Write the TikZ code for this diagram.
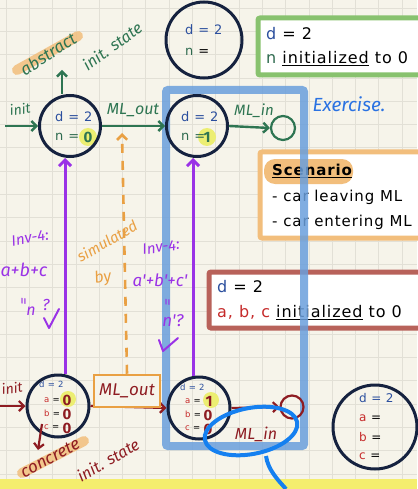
\documentclass[tikz,border=0pt]{standalone}
\usepackage{fontspec}
\setmainfont{DejaVu Sans}[LetterSpace=6]
\newfontfamily\hand{Fira Sans}
\usetikzlibrary{arrows.meta,shapes.geometric}
\definecolor{paper}{HTML}{F6F4EA}
\definecolor{gridc}{HTML}{E2E0D6}
\definecolor{navy}{HTML}{15223F}
\definecolor{dblue}{HTML}{2B4F9E}
\definecolor{ngreen}{HTML}{2F6B4F}
\definecolor{pengreen}{HTML}{2E7552}
\definecolor{violet}{HTML}{9A32E6}
\definecolor{orng}{HTML}{E9A043}
\definecolor{lorng}{HTML}{F2BE7C}
\definecolor{dred}{HTML}{8E1C22}
\definecolor{ared}{HTML}{C62A2A}
\definecolor{rbox}{HTML}{B8625A}
\definecolor{gbox}{HTML}{88C26E}
\definecolor{rectblue}{HTML}{6A9FDC}
\definecolor{penblue}{HTML}{2A72E2}
\definecolor{ringblue}{HTML}{1580F0}
\definecolor{hilite}{HTML}{ECEE72}
\definecolor{band}{HTML}{F4EE6E}
\tikzset{
  state/.style={circle, draw=navy, line width=3pt, inner sep=0pt},
  endstate/.style={circle, line width=2.2pt, inner sep=0pt, minimum size=24pt},
  garrow/.style={pengreen, line width=2.4pt, -{Straight Barb[length=5pt,width=10pt]}},
  rarrow/.style={dred, line width=2.2pt, -{Straight Barb[length=5pt,width=10pt]}},
  parrow/.style={violet, line width=3pt, -{Straight Barb[length=6pt,width=12pt]}},
  hw/.style={inner sep=0pt, font=\hand\itshape\fontsize{14}{14}\selectfont},
  typed/.style={font=\fontsize{16}{16}\selectfont, anchor=west, inner sep=0pt},
  mid/.style={font=\fontsize{13}{13}\selectfont, anchor=west, inner sep=0pt},
  tiny/.style={font=\fontsize{8.5}{8.5}\selectfont, anchor=west, inner sep=0pt},
  val/.style={inner sep=0pt, font=\hand\bfseries\fontsize{15}{15}\selectfont},
  frame/.style={line width=5pt, fill=white, rounded corners=2pt},
}
\begin{document}
\begin{tikzpicture}[x=1pt,y=-1pt]
\useasboundingbox (0,0) rectangle (417,489);
% paper and grid
\fill[paper] (0,0) rectangle (417,489);
\foreach \x in {6,29.3,...,417} \draw[gridc, line width=0.7pt] (\x,0) -- (\x,489);
\foreach \y in {8,31.3,...,489} \draw[gridc, line width=0.7pt] (0,\y) -- (417,\y);
\fill[band] (0,479) rectangle (417,489);

% ---- boxes on the right ----
\draw[frame, draw=gbox] (258,18) rectangle (425,75);
\node[typed] at (266,34) {\textcolor{dblue}{d} = 2};
\node[typed] at (266,59) {\textcolor{ngreen}{n} \underline{initialized} to 0};

\draw[frame, draw=lorng] (260,152) rectangle (425,238);
\fill[lorng, rounded corners=11pt] (264,159) rectangle (353,184);
\node[typed, font=\bfseries\fontsize{15}{15}\selectfont] at (272,171) {\underline{Scenario}};
\node[typed, font=\fontsize{15}{15}\selectfont] at (272,197) {- car leaving ML};
\node[typed, font=\fontsize{15}{15}\selectfont] at (272,222) {- car entering ML};

\draw[frame, draw=rbox] (209,272) rectangle (425,328);
\node[typed] at (217,287) {\textcolor{dblue}{d} = 2};
\node[typed] at (217,313) {\textcolor{ared}{a, b, c} \underline{initialized} to 0};

% ---- exercise frame (under the states, over the boxes) ----
\draw[rectblue, line width=8pt, opacity=0.85, rounded corners=2pt] (166,90) rectangle (304,446);

% ---- legend circles ----
\node[state, minimum size=76pt] (legA) at (204,40) {};
\node[mid] at (185,30) {\textcolor{dblue}{d = 2}};
\node[mid] at (185,52) {\textcolor{ngreen}{n} =};

\node[state, minimum size=84pt] (legC) at (375,427) {};
\node[mid, font=\fontsize{12}{12}\selectfont] at (359,398) {\textcolor{dblue}{d = 2}};
\node[mid, font=\fontsize{12}{12}\selectfont] at (359,418) {\textcolor{ared}{a} =};
\node[mid, font=\fontsize{12}{12}\selectfont] at (359,437) {\textcolor{ared}{b} =};
\node[mid, font=\fontsize{12}{12}\selectfont] at (359,456) {\textcolor{ared}{c} =};

% ---- abstract machine ----
\fill[hilite] (88,137) circle (9pt);
\fill[hilite] (207,137) circle (9pt);
\node[state, minimum size=61pt] (A) at (70,126) {};
\node[state, minimum size=61pt] (B) at (197,126) {};
\node[endstate, draw=pengreen] (Bend) at (283,128) {};
\node[mid] at (55,117) {\textcolor{dblue}{d = 2}};
\node[mid] at (55,137) {\textcolor{ngreen}{n =}};
\node[val, text=pengreen] at (88,137) {0};
\node[mid] at (181,117) {\textcolor{dblue}{d = 2}};
\node[mid] at (181,137) {\textcolor{ngreen}{n =}};
\node[val, text=pengreen] at (207,137) {1};

\coordinate (initA) at (5,126);
\coordinate (absTip) at (62,70);
\draw[garrow] (initA) -- (A.west);
\draw[garrow] ([xshift=-8pt]A.north) -- (absTip);
\draw[garrow] (A.east) -- (B.west);
\draw[garrow] (B.east) -- (Bend.west);
\node[hw, text=pengreen, rotate=8] at (20,109) {init};
\node[hw, text=pengreen, font=\hand\itshape\fontsize{16}{16}\selectfont] at (133,110) {ML\_out};
\node[hw, text=pengreen, font=\hand\itshape\fontsize{15}{15}\selectfont] at (254,111) {ML\_in};
\draw[lorng, line width=10pt, line cap=round, opacity=0.85] (17,70) -- (78,36);
\node[hw, text=pengreen, rotate=33, font=\hand\itshape\fontsize{17}{17}\selectfont] at (48,54) {abstract};
\node[hw, text=pengreen, rotate=36, font=\hand\itshape\fontsize{16}{16}\selectfont] at (112,46) {init. state};
\node[hw, text=penblue, font=\hand\itshape\fontsize{19}{19}\selectfont] at (349,104) {Exercise.};

% ---- concrete machine ----
\fill[hilite] (68,399) circle (8pt);
\fill[hilite] (211,400) circle (8pt);
\node[state, minimum size=62pt] (C) at (58,406) {};
\node[state, minimum size=62pt] (D) at (199,408) {};
\node[endstate, draw=dred, minimum size=23pt] (Dend) at (292,407) {};
\node[tiny] at (39,384) {\textcolor{dblue}{d = 2}};
\node[tiny] at (44,400) {\textcolor{ared}{a} =};
\node[tiny] at (44,413) {\textcolor{ared}{b} =};
\node[tiny] at (44,427) {\textcolor{ared}{c} =};
\node[val, text=dred] at (67,400) {0};
\node[val, text=dred] at (67,414) {0};
\node[val, text=dred] at (67,428) {0};
\node[tiny] at (180,387) {\textcolor{dblue}{d = 2}};
\node[tiny] at (185,401) {\textcolor{ared}{a} =};
\node[tiny] at (185,414) {\textcolor{ared}{b} =};
\node[tiny] at (185,428) {\textcolor{ared}{c} =};
\node[val, text=dred] at (209,401) {1};
\node[val, text=dred] at (208,415) {0};
\node[val, text=dred] at (208,429) {0};

\coordinate (initC) at (0,406);
\coordinate (conTip) at (38,450);
\draw[rarrow] (initC) -- (C.west);
\draw[rarrow] ([xshift=-16pt]C.center |- C.south west) ++(0,-5) -- (conTip);
\draw[rarrow] (C.east) -- (D.west);
\draw[rarrow] (D.east) -- (Dend.west);
\node[hw, text=dred, rotate=8] at (12,388) {init};
\node[draw=orng, line width=2.5pt, fill=paper, inner sep=0pt, minimum width=66pt, minimum height=32pt, text=dred,
      font=\hand\itshape\fontsize{17}{17}\selectfont] (MLout) at (127,391) {ML\_out};
\node[hw, text=dred, font=\hand\itshape\fontsize{16}{16}\selectfont] (MLin) at (256,434) {ML\_in};
\draw[lorng, line width=10pt, line cap=round, opacity=0.85] (22,473) -- (84,441);
\node[hw, text=dred, rotate=28, font=\hand\itshape\fontsize{17}{17}\selectfont] at (50,458) {concrete};
\node[hw, text=dred, rotate=30, font=\hand\itshape\fontsize{16}{16}\selectfont] at (108,460) {init. state};

% ---- gluing invariants and simulation ----
\coordinate (simTip) at (122,133);
\draw[orng, line width=2.6pt, dash pattern=on 9pt off 8pt, -{Straight Barb[length=5pt,width=10pt]}] (MLout.north) -- (simTip);
\node[hw, text=orng, rotate=30, font=\hand\itshape\fontsize{15}{15}\selectfont] at (107,241) {simulated};
\node[hw, text=orng, rotate=10, font=\hand\itshape\fontsize{16}{16}\selectfont] at (103,278) {by};

\draw[parrow] ([xshift=7pt]C.north) -- ([xshift=-5pt]A.south);
\draw[parrow] ([xshift=-6pt]D.north) -- ([xshift=-4pt]B.south);
% left invariant
\node[hw, text=violet, rotate=10, font=\hand\itshape\fontsize{15}{15}\selectfont] at (30,238) {Inv-4:};
\node[hw, text=violet, font=\hand\itshape\fontsize{18}{18}\selectfont] at (24,270) {a+b+c};
\node[hw, text=violet, rotate=-90, font=\hand\itshape\fontsize{15}{15}\selectfont] at (22,301) {=};
\node[hw, text=violet, font=\hand\itshape\fontsize{16}{16}\selectfont] at (31,311) {n};
\node[hw, text=violet, font=\hand\itshape\fontsize{16}{16}\selectfont] at (46,305) {?};
\draw[violet, line width=2pt, line cap=round, line join=round] (44,318) -- (49,328) -- (59,309);
% right invariant
\node[hw, text=violet, rotate=8, font=\hand\itshape\fontsize{15}{15}\selectfont] at (161,247) {Inv-4:};
\node[hw, text=violet, font=\hand\itshape\fontsize{17}{17}\selectfont] at (160,280) {a'+b'+c'};
\node[hw, text=violet, rotate=-90, font=\hand\itshape\fontsize{15}{15}\selectfont] at (166,302) {=};
\node[hw, text=violet, font=\hand\itshape\fontsize{17}{17}\selectfont] at (173,321) {n'?};
\draw[violet, line width=2pt, line cap=round, line join=round] (159,340) -- (163,351) -- (178,338);

% ---- the ML_in step under study ----
\draw[ringblue, line width=4pt, rotate around={11:(251,431)}] (251,431) ellipse (47pt and 23pt);
\draw[ringblue, line width=4pt] (266,456) .. controls (268,470) and (278,480) .. (286,489);
\end{tikzpicture}
\end{document}
